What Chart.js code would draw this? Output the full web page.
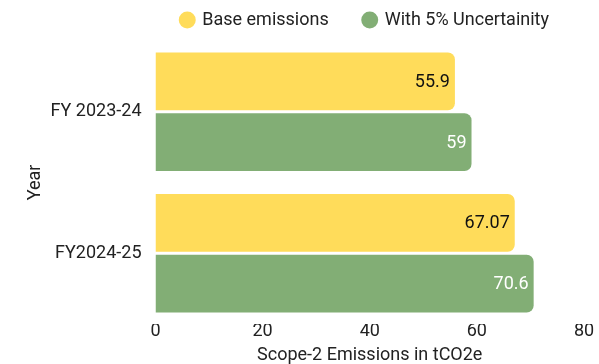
<!DOCTYPE html>
<html>
<head>
<meta charset="utf-8">
<script src="https://cdn.jsdelivr.net/npm/chart.js@4"></script>
<style>
  html, body { margin: 0; padding: 0; background: #fff; }
  #wrap { width: 599px; height: 364px; }
</style>
</head>
<body>
<div id="wrap"><canvas id="emissionsChart" width="599" height="364"></canvas></div>
<script>
// Chart values
var years = ['FY 2023-24', 'FY2024-25'];
var baseEmissions = [55.9, 67.07];
var withUncertainty = [59, 70.6];
var seriesNames = ['Base emissions', 'With 5% Uncertainity'];

// Draw the value at the end of each bar
var barLabels = {
    id: 'barLabels',
    afterDatasetsDraw: function(chart) {
        var ctx = chart.ctx;
        ctx.save();
        ctx.font = '18px Roboto';
        ctx.textAlign = 'right';
        ctx.textBaseline = 'middle';
        chart.data.datasets.forEach(function(ds, i) {
            var meta = chart.getDatasetMeta(i);
            meta.data.forEach(function(bar, j) {
                ctx.fillStyle = i === 0 ? '#111111' : '#ffffff';
                ctx.fillText(String(ds.data[j]), bar.x - 5, bar.y + 1);
            });
        });
        ctx.restore();
    }
};

// a little more room under the legend
var legendGap = {
    id: 'legendGap',
    afterInit: function(chart) {
        var legend = chart.legend;
        if (!legend) return;
        var fit = legend.fit;
        legend.fit = function() {
            fit.call(this);
            this.height += 2;
        };
    }
};

Chart.defaults.font.family = 'Roboto';
Chart.defaults.font.size = 18;
Chart.defaults.color = '#222222';

var ctx = document.getElementById('emissionsChart').getContext('2d');
var emissionsChart = new Chart(ctx, {
    type: 'bar',
    data: {
        labels: years,
        datasets: [{
            label: seriesNames[0],
            data: baseEmissions,
            backgroundColor: '#FFDC5A',
            borderRadius: 7,
            borderSkipped: 'start',
            barPercentage: 0.95,
            categoryPercentage: 0.86
        }, {
            label: seriesNames[1],
            data: withUncertainty,
            backgroundColor: '#82AE75',
            borderRadius: 7,
            borderSkipped: 'start',
            barPercentage: 0.95,
            categoryPercentage: 0.86
        }]
    },
    options: {
        indexAxis: 'y',
        responsive: false,
        animation: false,
        layout: { padding: { left: 12, right: 15, top: -24, bottom: -2 } },
        plugins: {
            legend: {
                position: 'top',
                align: 'end',
                labels: {
                    usePointStyle: true,
                    pointStyle: 'circle',
                    boxWidth: 12,
                    boxHeight: 12,
                    padding: 35,
                    color: '#222222',
                    font: { size: 18 }
                }
            },
            tooltip: { enabled: false }
        },
        scales: {
            x: {
                min: 0,
                max: 80,
                ticks: { stepSize: 20, padding: 0, color: '#222222', font: { lineHeight: 0.8 } },
                grid: { display: false, drawTicks: false },
                border: { display: false },
                title: { display: true, text: 'Scope-2 Emissions in tCO2e', color: '#222222', padding: { top: 6, bottom: 0 } }
            },
            y: {
                ticks: { padding: 14, color: '#222222' },
                grid: { display: false, drawTicks: false },
                border: { display: false },
                title: { display: true, text: 'Year', color: '#222222', padding: { top: 13, bottom: -10 } }
            }
        }
    },
    plugins: [barLabels, legendGap]
});
</script>
</body>
</html>
